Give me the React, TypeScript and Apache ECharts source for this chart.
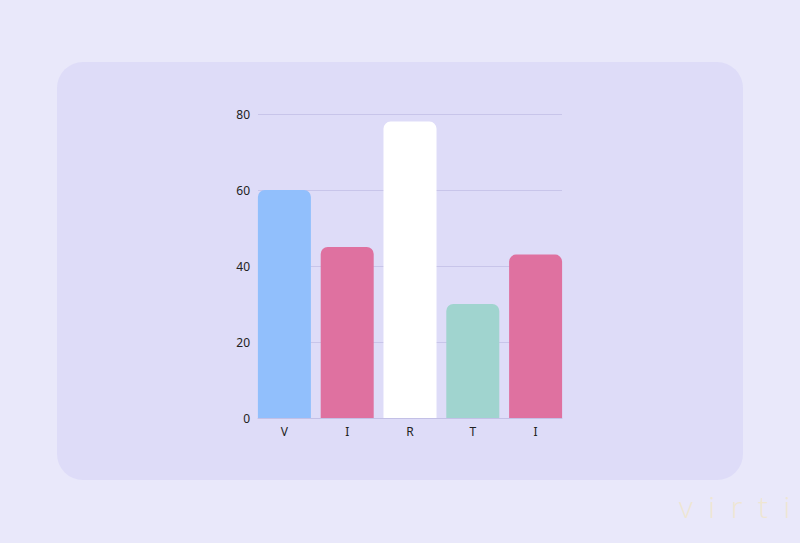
import { useEffect, useRef } from 'react';
import * as echarts from 'echarts';

const categories = ['V', 'I', 'R', 'T', 'I'];
const values = [60, 45, 78, 30, 43];
const barColors = ['#91bffc', '#df71a0', '#ffffff', '#a0d4cf', '#df71a0'];
const yTicks = [0, 20, 40, 60, 80];

export default function App() {
  const chartRef = useRef<HTMLDivElement>(null);

  useEffect(() => {
    if (!chartRef.current) return;
    const chart = echarts.init(chartRef.current, undefined, { renderer: 'svg' });

    const yMin = yTicks[0];
    const yMax = yTicks[yTicks.length - 1];

    const option: echarts.EChartsOption = {
      animation: false,
      backgroundColor: '#e9e8fa',
      graphic: [
        {
          type: 'rect',
          z: -10,
          shape: { x: 57, y: 62, width: 686, height: 418, r: 26 },
          style: { fill: '#dedcf8' },
          silent: true,
        },
        {
          type: 'text',
          x: 679,
          y: 506,
          style: {
            text: 'v  i  r  t  i',
            fill: '#efe6d2',
            font: '200 30px "Open Sans", sans-serif',
            verticalAlign: 'middle',
          },
          silent: true,
        },
      ],
      // grid 0 carries the split lines and y labels, grid 1 the bars (flush to the edges)
      grid: [
        { left: 258, right: 238, top: 114, bottom: 125 },
        { left: 253, right: 233, top: 114, bottom: 125 },
      ],
      xAxis: [
        {
          type: 'category',
          gridIndex: 0,
          data: categories,
          axisLine: { lineStyle: { color: '#c3c0e6' } },
          axisTick: { show: false },
          axisLabel: { show: false },
        },
        {
          type: 'category',
          gridIndex: 1,
          data: categories,
          axisLine: { show: false },
          axisTick: { show: false },
          axisLabel: { color: '#222', fontSize: 12, margin: 7, fontFamily: 'Noto Sans' },
        },
      ],
      yAxis: [
        {
          type: 'value',
          gridIndex: 0,
          min: yMin,
          max: yMax,
          interval: 20,
          axisLine: { show: false },
          axisTick: { show: false },
          axisLabel: { color: '#222', fontSize: 12, margin: 8, fontFamily: 'Noto Sans' },
          splitLine: { lineStyle: { color: '#c8c5ea' } },
        },
        {
          type: 'value',
          gridIndex: 1,
          min: yMin,
          max: yMax,
          interval: 20,
          show: false,
          splitLine: { show: false },
        },
      ],
      series: [
        {
          type: 'bar',
          xAxisIndex: 1,
          yAxisIndex: 1,
          data: values.map((v, i) => ({ value: v, itemStyle: { color: barColors[i] } })),
          barWidth: 53,
          itemStyle: { borderRadius: [7, 7, 0, 0] },
        },
      ],
    };

    chart.setOption(option);
    return () => chart.dispose();
  }, []);

  return (
    <div
      ref={chartRef}
      style={{ position: 'absolute', left: 0, top: 0, width: 800, height: 543 }}
    />
  );
}
